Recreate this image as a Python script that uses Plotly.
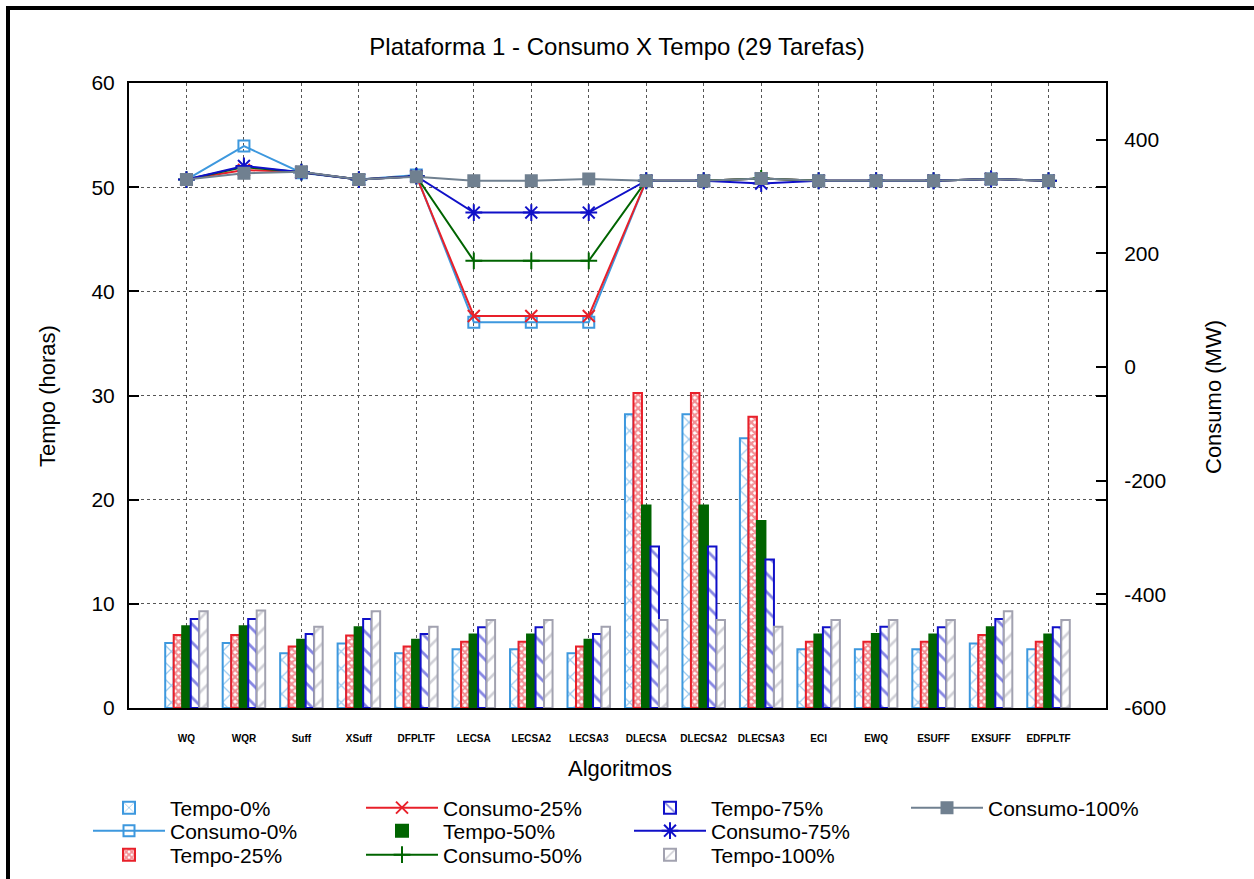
import plotly.graph_objects as go

# ---- data -------------------------------------------------------------
algoritmos = ["WQ", "WQR", "Suff", "XSuff", "DFPLTF", "LECSA", "LECSA2", "LECSA3",
              "DLECSA", "DLECSA2", "DLECSA3", "ECI", "EWQ", "ESUFF", "EXSUFF", "EDFPLTF"]

# execution time (hours) per platform load level
tempo_0 = [6.25, 6.25, 5.25, 6.2, 5.25, 5.65, 5.65, 5.25, 28.2, 28.2, 25.9, 5.65, 5.65, 5.65, 6.2, 5.65]
tempo_25 = [7.0, 7.0, 5.9, 6.95, 5.9, 6.35, 6.35, 5.9, 30.25, 30.25, 27.95, 6.35, 6.35, 6.35, 7.0, 6.35]
tempo_50 = [7.85, 7.85, 6.55, 7.75, 6.55, 7.05, 7.05, 6.55, 19.45, 19.45, 17.95, 7.05, 7.1, 7.05, 7.75, 7.05]
tempo_75 = [8.55, 8.55, 7.1, 8.55, 7.1, 7.75, 7.75, 7.1, 15.5, 15.5, 14.25, 7.75, 7.8, 7.75, 8.55, 7.75]
tempo_100 = [9.3, 9.35, 7.8, 9.3, 7.8, 8.45, 8.45, 7.8, 8.45, 8.45, 7.8, 8.45, 8.45, 8.45, 9.3, 8.45]

# energy consumption (MW)
consumo_0 = [330, 389, 342, 330, 338, 79, 79, 79, 328, 328, 332, 328, 328, 328, 331, 328]
consumo_25 = [330, 347, 343, 330, 336, 90, 90, 90, 328, 328, 332, 328, 328, 328, 331, 328]
consumo_50 = [330, 352, 343, 330, 336, 187, 187, 187, 328, 328, 332, 328, 328, 328, 331, 328]
consumo_75 = [330, 354, 343, 330, 336, 272, 272, 272, 328, 328, 323, 328, 328, 328, 331, 328]
consumo_100 = [330, 341, 344, 330, 335, 328, 328, 331, 328, 328, 332, 328, 328, 328, 331, 328]

y_ticks = [0, 10, 20, 30, 40, 50, 60]
y2_ticks = [-600, -400, -200, 0, 200, 400]
y2_ticktext = ["-600", "-400", "-200", "0", "200", "400"]

# ---- styling ----------------------------------------------------------
W, H = 1254, 879
PL, PR, PT, PB = 129, 1106, 83, 708  # plot area in pixels
FONT = "Liberation Sans, Arial, Helvetica, sans-serif"

C_LBLUE = "#3d98de"
C_RED = "#e8202a"
C_GREEN = "#006400"
C_BLUE = "#1010c8"
C_GRAY = "#a2a2b0"
C_SLATE = "#708090"


def px_x(px):
    return (px - PL) / (PR - PL)


def px_y(py):
    return (PB - py) / (PB - PT)


fig = go.Figure()

bar_specs = [
    ("Tempo-0%", tempo_0, C_LBLUE, "x", 12, 0.2, "white", "legend"),
    ("Tempo-25%", tempo_25, C_RED, "x", 5, 0.7, "white", "legend3"),
    ("Tempo-50%", tempo_50, C_GREEN, "", 8, 0.3, C_GREEN, "legend5"),
    ("Tempo-75%", tempo_75, C_BLUE, "\\", 13, 0.22, "white", "legend7"),
    ("Tempo-100%", tempo_100, C_GRAY, "/", 13, 0.2, "white", "legend9"),
]
for name, vals, col, shape, size, sol, bg, lg in bar_specs:
    fig.add_trace(go.Bar(
        name=name, x=algoritmos, y=vals, yaxis="y", legend=lg,
        marker=dict(color=bg, line=dict(color=col, width=2),
                    pattern=dict(shape=shape, fgcolor=col, bgcolor=bg,
                                 size=size, solidity=sol, fillmode="overlay")),
    ))

line_specs = [
    ("Consumo-0%", consumo_0, C_LBLUE, "square-open", 11, "legend2"),
    ("Consumo-25%", consumo_25, C_RED, "x-thin-open", 12, "legend4"),
    ("Consumo-50%", consumo_50, C_GREEN, "cross-thin-open", 12, "legend6"),
    ("Consumo-75%", consumo_75, C_BLUE, "asterisk-open", 14, "legend8"),
    ("Consumo-100%", consumo_100, C_SLATE, "square", 11, "legend10"),
]
for name, vals, col, sym, size, lg in line_specs:
    fig.add_trace(go.Scatter(
        name=name, x=algoritmos, y=vals, yaxis="y2", legend=lg,
        mode="lines+markers",
        line=dict(color=col, width=2),
        marker=dict(symbol=sym, size=size, color=col, line=dict(color=col, width=2)),
    ))

# one legend per entry, laid out in four columns of three rows
cols_text_x = [172, 445, 713, 990]
rows_y = [808, 831, 855]
legend_names = ["legend", "legend2", "legend3", "legend4", "legend5",
                "legend6", "legend7", "legend8", "legend9", "legend10"]
legend_layout = {}
for i, lg in enumerate(legend_names):
    c, r = divmod(i, 3)
    legend_layout[lg] = dict(
        xref="container", yref="container",
        x=(cols_text_x[c] - 84) / W, y=1 - rows_y[r] / H,
        xanchor="left", yanchor="middle",
        bgcolor="rgba(0,0,0,0)", borderwidth=0,
        itemwidth=72, font=dict(family=FONT, size=21, color="black"),
    )

tick_font = dict(family=FONT, size=21, color="black")
title_font = dict(family=FONT, size=22, color="black")

fig.update_layout(
    width=W, height=H,
    margin=dict(l=PL, r=W - PR, t=PT, b=H - PB, autoexpand=False),
    paper_bgcolor="white", plot_bgcolor="white",
    barmode="group", bargap=0.26, bargroupgap=0,
    showlegend=True,
    title=dict(text="Plataforma 1 - Consumo X Tempo (29 Tarefas)",
               x=617 / W, xanchor="center", y=1 - 47 / H, yanchor="middle",
               font=dict(family=FONT, size=24, color="black")),
    xaxis=dict(
        type="category", categoryorder="array", categoryarray=algoritmos,
        range=[-1, 16], automargin=False,
        showline=True, linecolor="black", linewidth=2, mirror=True,
        showgrid=True, gridcolor="#555555", griddash="dot", gridwidth=1,
        ticks="", ticklabelstandoff=20, tickangle=0,
        tickfont=dict(family=FONT, size=10, color="black", weight="bold"),
    ),
    yaxis=dict(
        range=[0, 60], tickvals=y_ticks, automargin=False,
        showline=True, linecolor="black", linewidth=2, mirror="ticks",
        ticks="inside", ticklen=10, tickwidth=2, tickcolor="black",
        showgrid=True, gridcolor="#555555", griddash="dot", gridwidth=1,
        zeroline=False, ticklabelstandoff=8,
        tickfont=tick_font,
    ),
    yaxis2=dict(
        overlaying="y", side="right", automargin=False,
        range=[-600, 500], tickvals=y2_ticks, ticktext=y2_ticktext,
        showline=True, linecolor="black", linewidth=2,
        ticks="inside", ticklen=10, tickwidth=2, tickcolor="black",
        showgrid=False, zeroline=False, ticklabelstandoff=12,
        tickfont=tick_font,
    ),
    **legend_layout,
)

# axis titles
fig.add_annotation(text="Algoritmos", xref="paper", yref="paper",
                   x=px_x(620), y=px_y(768), showarrow=False,
                   xanchor="center", yanchor="middle", font=title_font)
fig.add_annotation(text="Tempo (horas)", xref="paper", yref="paper",
                   x=px_x(47), y=px_y(396), showarrow=False, textangle=-90,
                   xanchor="center", yanchor="middle", font=title_font)
fig.add_annotation(text="Consumo (MW)", xref="paper", yref="paper",
                   x=px_x(1213), y=px_y(397), showarrow=False, textangle=-90,
                   xanchor="center", yanchor="middle", font=title_font)

# black frame along the top and left edges of the image
fig.add_shape(type="rect", xref="paper", yref="paper",
              x0=px_x(6), x1=px_x(W + 2), y0=px_y(10), y1=px_y(6),
              fillcolor="black", line=dict(width=0), layer="above")
fig.add_shape(type="rect", xref="paper", yref="paper",
              x0=px_x(6), x1=px_x(10), y0=px_y(H + 2), y1=px_y(6),
              fillcolor="black", line=dict(width=0), layer="above")

fig.write_html("out.html")
